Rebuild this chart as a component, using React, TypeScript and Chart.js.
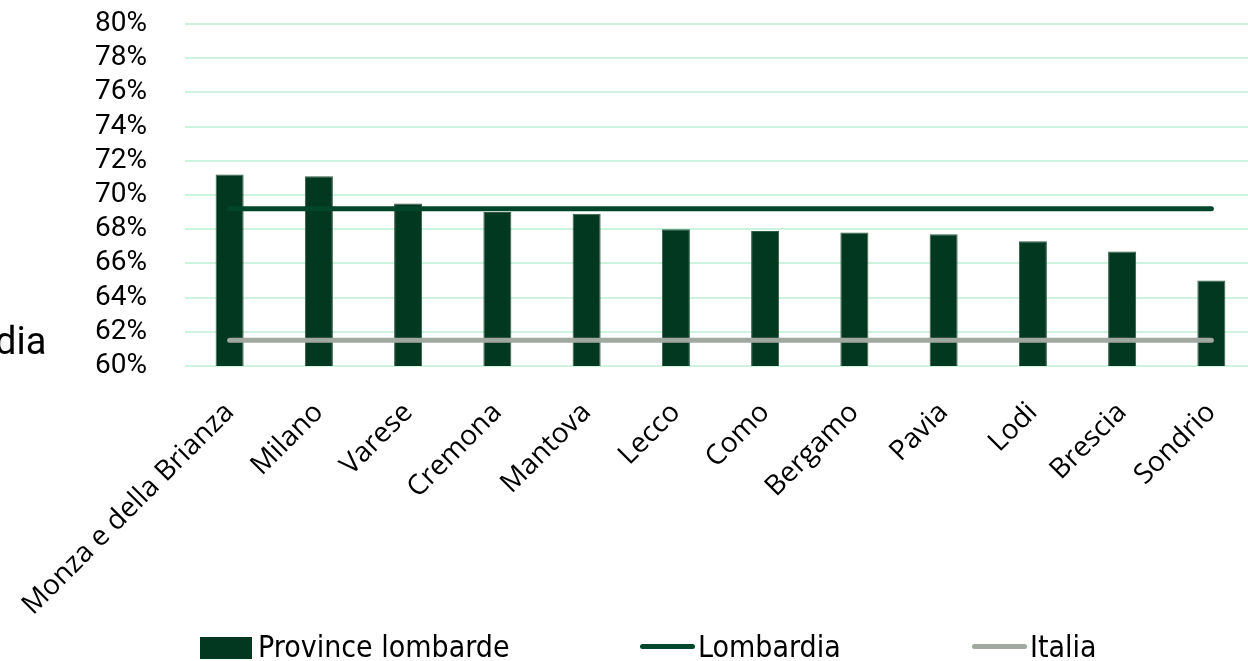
import React, { useEffect, useRef } from "react";
import { Chart, registerables } from "chart.js";

Chart.register(...registerables);

// Province names along the category axis
const categories: string[] = [
  "Monza e della Brianza",
  "Milano",
  "Varese",
  "Cremona",
  "Mantova",
  "Lecco",
  "Como",
  "Bergamo",
  "Pavia",
  "Lodi",
  "Brescia",
  "Sondrio",
];

// Rate per province (%)
const provinceValues: number[] = [71.2, 71.1, 69.5, 69.0, 68.9, 68.0, 67.9, 67.8, 67.7, 67.3, 66.7, 65.0];

// Regional and national reference levels (%)
const lombardiaValue = 69.2;
const italiaValue = 61.5;

// Y axis range and step (%)
const yMin = 60;
const yMax = 80;
const yStep = 2;

const BAR_COLOR = "#01381f";
const LOMBARDIA_COLOR = "#00462a";
const ITALIA_COLOR = "#a0a8a0";
const GRID_COLOR = "#cdf2de";

const CANVAS_W = 1270;
const CANVAS_H = 661;
const AREA_TOP = 24;
const AREA_BOTTOM = 366;
const AREA_LEFT = 185;

export default function App() {
  const canvasRef = useRef<HTMLCanvasElement | null>(null);

  useEffect(() => {
    if (!canvasRef.current) return;
    const chart = new Chart(canvasRef.current, {
      type: "bar",
      data: {
        labels: categories,
        datasets: [
          {
            type: "line",
            label: "Lombardia",
            data: categories.map(() => lombardiaValue),
            borderColor: LOMBARDIA_COLOR,
            borderWidth: 5,
            borderCapStyle: "round",
            pointRadius: 0,
            fill: false,
            order: 1,
          },
          {
            type: "line",
            label: "Italia",
            data: categories.map(() => italiaValue),
            borderColor: ITALIA_COLOR,
            borderWidth: 5,
            borderCapStyle: "round",
            pointRadius: 0,
            fill: false,
            order: 1,
          },
          {
            type: "bar",
            label: "Province lombarde",
            data: provinceValues,
            backgroundColor: BAR_COLOR,
            borderColor: "#2f5c45",
            borderWidth: 1,
            categoryPercentage: 1,
            barPercentage: 0.314,
            order: 2,
          },
        ] as any,
      },
      options: {
        responsive: false,
        animation: false,
        layout: { padding: { top: AREA_TOP, right: 14, left: 0, bottom: 0 } },
        plugins: {
          legend: { display: false },
          tooltip: { enabled: false },
        },
        scales: {
          x: {
            grid: { display: false },
            border: { display: false },
            ticks: {
              color: "#000",
              maxRotation: 45,
              minRotation: 45,
              autoSkip: false,
              padding: 22,
              font: { family: "'Open Sans', 'Noto Sans', sans-serif", size: 28 },
            },
            afterFit: (scale: any) => {
              scale.height = CANVAS_H - AREA_BOTTOM;
              scale.paddingLeft = 0;
              scale.paddingRight = 0;
            },
          },
          y: {
            min: yMin,
            max: yMax,
            grid: { color: GRID_COLOR, lineWidth: 2, drawTicks: false },
            border: { display: false },
            ticks: {
              stepSize: yStep,
              autoSkip: false,
              color: "#000",
              padding: 38,
              font: { family: "Roboto, 'Noto Sans', sans-serif", size: 28 },
              callback: (v: any) => `${v}%`,
            },
            afterFit: (scale: any) => {
              scale.width = AREA_LEFT;
              scale.paddingTop = 0;
              scale.paddingBottom = 0;
            },
          },
        },
      },
    });
    return () => chart.destroy();
  }, []);

  const legendText: React.CSSProperties = {
    position: "absolute",
    fontFamily: "'Liberation Sans Narrow', 'DejaVu Sans Condensed', Roboto, sans-serif",
    fontSize: 30,
    lineHeight: "30px",
    color: "#000",
    whiteSpace: "nowrap",
  };

  return (
    <div
      style={{
        position: "fixed",
        left: 0,
        top: 0,
        width: 1248,
        height: 661,
        overflow: "hidden",
        background: "#fff",
      }}
    >
      <canvas
        ref={canvasRef}
        width={CANVAS_W}
        height={CANVAS_H}
        style={{ position: "absolute", left: 0, top: 0, width: CANVAS_W, height: CANVAS_H }}
      />
      <div
        style={{
          position: "absolute",
          left: -5,
          top: 322,
          fontFamily: "Roboto, 'Noto Sans', sans-serif",
          fontSize: 38,
          lineHeight: "38px",
          color: "#000",
        }}
      >
        dia
      </div>
      {/* legend */}
      <div style={{ position: "absolute", left: 200, top: 637, width: 52, height: 22, background: BAR_COLOR }} />
      <div style={{ ...legendText, left: 258, top: 632 }}>Province lombarde</div>
      <div
        style={{
          position: "absolute",
          left: 640,
          top: 644,
          width: 55,
          height: 5,
          borderRadius: 3,
          background: LOMBARDIA_COLOR,
        }}
      />
      <div style={{ ...legendText, left: 698, top: 632 }}>Lombardia</div>
      <div
        style={{
          position: "absolute",
          left: 972,
          top: 644,
          width: 55,
          height: 5,
          borderRadius: 3,
          background: ITALIA_COLOR,
        }}
      />
      <div style={{ ...legendText, left: 1030, top: 632 }}>Italia</div>
    </div>
  );
}
